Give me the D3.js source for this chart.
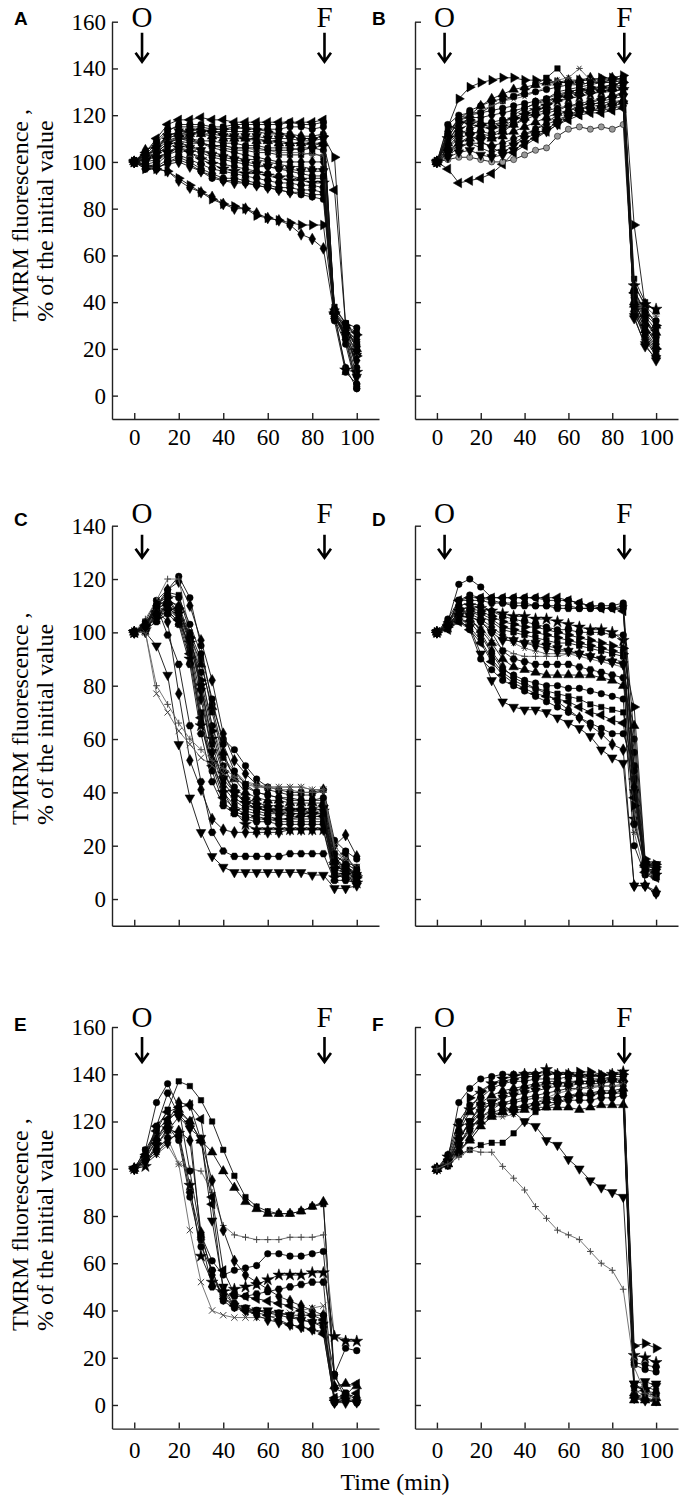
<!DOCTYPE html>
<html>
<head>
<meta charset="utf-8">
<script src="https://cdn.jsdelivr.net/npm/d3@7"></script>
<style>
body { margin: 0; background: #fff; }
svg text { font-family: "Liberation Serif", "Times New Roman", serif; fill: #000; }
</style>
</head>
<body>
<div id="chart"></div>
<script>
// sampling times (min)
var times = [0,5,10,15,20,25,30,35,40,45,50,55,60,65,70,75,80,85,90,95,100];
var xTicks = [0,20,40,60,80,100];
var yTicks160 = [0,20,40,60,80,100,120,140,160];
var yTicks140 = [0,20,40,60,80,100,120,140];

// panel A
var markersA = ["triLeft","circle","diamond","triangle","circle","square","diamond","triDown","circle","star",
  "circle","hexagon","diamond","circle","triRight","triLeft","triRight","diamond","asterisk","square",
  "circle","triDown","diamond","circle"];
var valuesA = [
  [100,104,110,116,118,118,119,118,118,117,117,117,117,117,117,117,117,118,35,30,27],
  [100,103,108,113,116,116,116,115,115,116,116,116,116,116,117,116,116,117,36,28,22],
  [100,105,107,111,113,114,114,113,113,113,113,113,112,112,112,111,111,112,34,25,5],
  [100,102,106,110,112,112,112,111,110,110,110,109,109,108,108,108,107,108,36,30,20],
  [100,104,104,108,110,110,109,109,108,108,107,107,106,106,106,105,106,105,33,22,3],
  [100,101,103,107,109,108,108,107,106,105,105,104,104,103,103,103,104,102,38,31,10],
  [100,103,105,109,111,110,108,106,105,104,103,102,101,100,100,100,100,100,34,24,4],
  [100,100,101,104,107,106,105,103,102,101,100,99,98,97,97,96,96,96,36,28,17],
  [100,98,99,103,105,104,102,100,99,98,97,96,95,94,94,93,93,93,33,26,12],
  [100,101,102,104,106,104,101,99,97,96,95,95,94,93,92,92,91,91,35,11,10],
  [100,99,98,101,103,101,99,97,96,95,94,93,92,91,91,90,90,89,34,12,3],
  [100,97,97,100,102,100,97,95,93,93,92,91,90,89,89,88,88,87,33,27,21],
  [100,98,98,99,100,98,96,94,92,91,91,90,89,88,87,87,86,86,35,29,23],
  [100,99,97,100,101,99,96,93,92,92,91,90,89,88,87,86,85,84,32,10,5],
  [100,102,104,108,111,112,113,114,114,115,114,114,113,112,111,110,110,111,102,30,26],
  [100,103,106,110,112,113,114,113,112,111,110,110,109,109,108,108,108,108,88,30,20],
  [100,97,97,96,93,90,87,84,82,81,80,77,76,75,74,73,73,73,35,25,17],
  [100,98,97,96,92,89,87,85,82,80,80,78,76,75,73,69,67,63,34,28,24],
  [100,102,105,109,110,109,108,107,107,106,106,105,105,104,104,104,103,103,37,27,18],
  [100,101,104,106,108,107,105,104,103,102,101,101,100,99,98,98,97,97,35,29,26],
  [100,104,109,114,115,115,115,114,114,114,115,114,114,114,115,115,114,115,37,31,29],
  [100,102,106,111,113,113,112,112,111,111,111,111,110,110,110,109,109,110,35,26,8],
  [100,101,104,108,110,109,108,107,107,106,106,106,105,105,105,106,106,107,36,24,15],
  [100,99,100,104,106,105,104,102,101,100,99,98,98,97,96,95,94,94,34,27,19]
];

// panel B
var markersB = ["triRight","triangle","square","asterisk","circle","diamond","triLeft","gcircle","triDown","star",
  "hexagon","square","triangle","circle","diamond","triRight","triDown","circle","triangle","square"];
var valuesB = [
  [100,115,127,132,134,135,136,136,135,135,135,134,134,135,135,136,136,137,73,38,30],
  [100,108,114,120,124,127,129,131,132,133,134,134,135,135,136,135,136,135,45,35,30],
  [100,110,118,120,121,124,126,128,130,133,136,140,134,133,134,135,135,136,50,40,36],
  [100,112,119,120,122,124,126,127,128,130,132,135,136,140,135,134,134,135,48,38,34],
  [100,116,120,121,121,122,123,124,125,126,127,129,130,131,131,132,133,134,42,32,25],
  [100,113,118,119,119,120,121,122,123,125,126,128,129,130,131,132,132,133,40,30,22],
  [100,97,91,92,93,95,99,104,107,110,113,116,118,120,121,121,122,123,44,34,28],
  [100,101,102,102,101,100,100,101,103,105,106,111,114,115,114,115,114,116,38,25,18],
  [100,104,108,111,109,106,104,107,110,112,114,117,120,122,124,126,127,128,33,22,15],
  [100,110,114,116,115,114,115,118,120,122,124,126,127,128,129,130,130,131,47,39,37],
  [100,106,110,112,113,112,114,116,118,120,121,122,124,125,126,127,128,129,36,24,17],
  [100,109,116,118,117,116,117,120,123,125,127,130,131,132,133,134,134,135,41,30,24],
  [100,105,108,110,111,110,111,113,115,117,119,121,122,123,124,124,125,126,39,28,21],
  [100,108,112,114,116,117,118,118,119,121,122,123,124,124,125,125,126,126,43,33,26],
  [100,103,106,108,108,107,108,110,112,114,116,118,120,121,122,122,123,124,35,26,19],
  [100,111,117,118,116,115,117,119,121,123,125,128,130,131,132,132,133,134,37,27,20],
  [100,102,104,105,103,102,103,105,108,111,113,116,119,121,122,123,124,125,34,21,16],
  [100,112,118,122,124,126,127,128,129,130,131,132,133,133,134,134,135,136,45,36,32],
  [100,106,112,113,112,111,113,116,119,121,124,127,129,130,131,131,132,132,40,31,27],
  [100,104,107,108,106,104,106,108,111,114,117,120,122,124,125,127,128,130,38,29,23]
];

// panel C
var markersC = ["circle","diamond","plus","square","triangle","circle","star","triRight","diamond","square",
  "circle","triLeft","hexagon","star","diamond","hexagon","triDown","cross","plus","triDown",
  "circle","square"];
var valuesC = [
  [100,104,112,116,121,113,95,73,60,56,50,45,42,41,40,40,40,41,22,18,15],
  [100,103,110,116,119,110,97,82,62,52,47,43,41,40,39,39,39,41,20,24,16],
  [100,105,112,120,120,100,85,65,53,48,44,42,42,42,42,42,41,41,18,15,12],
  [100,102,110,115,114,100,90,70,53,46,42,40,39,38,38,37,37,37,16,14,12],
  [100,103,108,112,110,99,88,72,55,45,40,38,37,37,36,36,36,36,15,12,10],
  [100,102,109,111,108,97,85,65,50,42,38,36,35,35,34,34,34,35,14,12,9],
  [100,101,107,110,107,96,80,60,47,40,36,34,33,33,33,33,32,33,13,10,8],
  [100,103,111,113,109,98,82,63,48,40,36,34,33,32,32,32,32,32,12,11,8],
  [100,102,106,109,105,95,75,55,42,37,34,33,32,32,31,31,31,31,11,10,7],
  [100,101,106,108,104,95,70,52,40,35,33,32,31,30,30,30,30,30,10,9,7],
  [100,103,109,113,107,93,66,48,36,33,31,30,30,29,29,29,29,29,9,8,6],
  [100,102,108,110,105,92,68,50,38,34,32,31,30,30,30,31,31,31,13,17,10],
  [100,101,104,107,103,88,62,44,35,32,30,29,29,28,28,28,28,28,12,12,8],
  [100,102,105,108,104,90,65,51,40,33,28,26,26,26,26,26,26,26,8,9,6],
  [100,103,108,104,77,52,41,30,26,25,25,25,25,25,26,26,26,26,10,8,7],
  [100,102,110,99,88,65,44,25,18,16,16,16,16,16,17,17,17,17,7,7,6],
  [100,100,95,84,58,38,25,16,12,10,10,10,10,10,10,10,9,9,4,4,5],
  [100,100,77,70,63,58,53,50,47,45,43,42,42,42,42,42,41,41,20,15,12],
  [100,100,80,73,66,60,56,52,49,46,44,43,42,41,41,40,40,40,18,14,10],
  [100,102,106,110,108,97,78,55,45,40,37,35,34,34,33,33,33,34,11,12,9],
  [100,103,110,114,113,103,92,75,58,48,43,40,39,38,37,37,37,38,17,13,11],
  [100,102,107,110,107,99,80,58,44,38,35,34,33,33,32,32,32,32,14,11,9]
];

// panel D
var markersD = ["circle","triLeft","hexagon","star","circle","triRight","square","asterisk","triDown","plus",
  "hexagon","triangle","circle","square","triLeft","diamond","circle","triDown","circle","triRight","diamond"];
var valuesD = [
  [100,104,118,120,117,113,113,113,113,113,112,112,112,111,110,110,110,111,60,12,10],
  [100,103,112,113,113,113,113,113,113,113,113,113,112,111,110,109,109,108,45,10,8],
  [100,103,112,112,112,111,111,110,110,110,110,109,109,109,109,109,109,110,40,14,12],
  [100,102,108,110,109,108,107,106,106,105,105,104,103,102,101,101,100,97,30,12,9],
  [100,104,110,111,110,108,106,105,104,103,102,101,101,100,100,100,99,99,55,10,9],
  [100,102,108,108,107,105,102,101,100,100,99,98,97,96,95,94,93,92,72,15,12],
  [100,103,107,108,106,104,101,100,99,98,97,96,96,95,94,93,92,91,50,11,10],
  [100,101,105,106,104,101,98,96,94,93,92,92,92,92,91,90,90,89,25,9,8],
  [100,103,106,106,104,100,97,97,96,96,95,94,93,92,91,90,89,88,40,12,13],
  [100,101,104,104,102,97,94,92,91,91,91,91,92,91,90,89,88,87,33,10,9],
  [100,102,106,106,104,100,93,90,89,88,88,88,88,87,86,85,84,83,28,13,11],
  [100,103,107,105,101,96,90,87,86,85,84,84,84,84,84,83,82,80,65,14,12],
  [100,102,105,104,99,92,86,84,82,81,80,80,79,79,78,77,76,75,20,9,8],
  [100,102,104,102,97,90,85,82,80,79,78,77,76,75,73,72,71,70,45,11,13],
  [100,101,104,101,96,89,84,81,79,77,76,75,74,72,70,69,67,66,38,12,10],
  [100,103,110,106,100,93,87,83,81,79,77,74,71,68,65,62,58,56,5,5,3],
  [100,102,105,101,90,86,82,80,78,76,74,72,70,68,66,64,62,62,50,5,2],
  [100,102,106,102,92,82,74,72,71,71,70,68,66,64,61,56,53,51,5,5,2],
  [100,105,112,114,113,112,111,111,111,110,110,110,110,109,109,109,109,109,48,11,9],
  [100,103,109,109,108,106,104,103,102,102,101,100,99,98,97,96,95,94,35,14,13],
  [100,102,107,107,105,102,99,97,96,95,94,93,93,92,91,90,89,88,42,13,11]
];

// panel E
var markersE = ["square","triangle","plus","diamond","circle","hexagon","star","cross","triDown","circle",
  "hexagon","triLeft","diamond","triLeft"];
var valuesE = [
  [100,108,116,125,137,135,129,120,108,97,88,84,82,81,81,82,84,85,12,5,2],
  [100,106,113,120,125,120,112,107,99,92,86,83,81,81,81,82,84,86,8,9,8],
  [100,102,106,110,102,100,99,90,76,72,71,70,70,70,71,71,71,72,29,28,27],
  [100,104,112,120,128,127,112,95,74,61,55,52,49,46,44,42,40,38,2,2,2],
  [100,108,128,136,126,99,72,61,55,57,58,59,64,64,63,63,64,65,13,2,1],
  [100,104,118,132,123,118,70,50,47,46,46,47,48,49,50,51,52,52,1,2,1],
  [100,101,110,117,115,93,63,52,48,49,50,51,53,55,55,55,56,56,29,27,27],
  [100,102,106,113,102,74,52,40,38,37,37,37,37,38,39,40,41,42,2,3,2],
  [100,103,110,116,122,117,113,78,50,42,41,40,40,39,38,36,35,34,1,2,1],
  [100,105,112,118,112,88,67,57,44,41,40,40,39,39,38,38,38,38,13,24,23],
  [100,104,108,113,114,90,71,57,45,43,41,40,39,38,37,36,35,33,7,5,3],
  [100,105,116,121,124,120,112,85,48,42,40,39,38,36,34,33,32,30,2,3,5],
  [100,103,107,111,116,112,73,55,45,42,40,38,36,35,34,33,32,31,1,1,2],
  [100,106,118,124,126,127,121,88,57,47,46,45,44,43,42,40,38,36,3,4,9]
];

// panel F
var markersF = ["circle","triRight","star","circle","triangle","square","triDown","diamond","asterisk","triangle",
  "square","circle","triangle","hexagon","triDown","plus"];
var valuesF = [
  [100,104,128,134,138,139,140,140,140,140,141,140,140,140,140,139,140,140,18,17,16],
  [100,103,115,130,133,136,137,138,139,139,140,140,140,141,141,140,140,140,25,26,24],
  [100,105,118,125,132,136,138,139,140,140,142,140,140,139,139,139,140,141,21,20,18],
  [100,106,120,127,130,134,136,137,137,138,138,138,139,139,138,138,139,139,17,15,14],
  [100,104,116,124,128,131,133,134,135,136,137,137,136,137,137,138,138,138,5,7,3],
  [100,102,112,120,124,128,131,133,134,135,136,136,137,137,137,137,138,137,4,3,2],
  [100,103,110,118,124,128,130,131,132,133,134,135,135,136,136,136,137,136,9,10,8],
  [100,102,110,116,122,125,128,129,130,131,132,133,134,134,135,135,135,135,3,2,2],
  [100,102,107,112,118,122,122,123,125,128,130,132,133,134,134,135,135,136,6,4,3],
  [100,102,108,112,118,122,124,126,127,128,129,130,131,132,132,133,133,134,2,3,1],
  [100,101,106,108,110,111,111,115,120,124,126,128,130,131,132,132,132,133,7,8,6],
  [100,103,113,120,126,127,127,128,129,130,130,130,131,131,131,132,132,132,3,5,4],
  [100,102,107,113,120,123,124,125,125,126,126,126,126,125,126,127,127,127,4,2,1],
  [100,102,110,117,122,124,125,126,126,127,128,128,129,129,129,130,130,131,8,6,5],
  [100,103,112,120,127,128,127,124,120,118,112,110,104,100,95,92,90,88,9,6,9],
  [100,102,105,108,107,107,101,96,91,84,79,74,72,70,65,60,57,49,16,5,3]
];

var svgWidth = 686;
var svgHeight = 1512;
var serif = "'Liberation Serif', 'Times New Roman', serif";

var svg = d3.select("#chart")
    .append("svg")
    .attr("width", svgWidth)
    .attr("height", svgHeight);

// column x ranges and row y ranges (pixels)
var cols = [[112, 379], [415, 678]];
var rows = [
    {top: 21.7, bottom: 419, max: 160, ticks: yTicks160, pad: 10},
    {top: 525.7, bottom: 925.7, max: 140, ticks: yTicks140, pad: 10},
    {top: 1027, bottom: 1428.6, max: 160, ticks: yTicks160, pad: 13}
];
// where the O / F labels and arrows sit, relative to the row top
var arrowPos = [
    {label: 5, y0: 11, y1: 40},
    {label: -3, y0: 9, y1: 32},
    {label: 0, y0: 10, y1: 35}
];

var panels = [
    {name: "A", values: valuesA, markers: markersA, col: 0, row: 0, xLabels: true},
    {name: "B", values: valuesB, markers: markersB, col: 1, row: 0, xLabels: true},
    {name: "C", values: valuesC, markers: markersC, col: 0, row: 1, xLabels: false},
    {name: "D", values: valuesD, markers: markersD, col: 1, row: 1, xLabels: false},
    {name: "E", values: valuesE, markers: markersE, col: 0, row: 2, xLabels: true},
    {name: "F", values: valuesF, markers: markersF, col: 1, row: 2, xLabels: true}
];

// extra marker shapes
var symHexagon = {
    draw: function(ctx, size) {
        var r = Math.sqrt(size / 2.598);
        for (var i = 0; i < 6; i++) {
            var a = Math.PI / 3 * i;
            if (i === 0) ctx.moveTo(r * Math.cos(a), r * Math.sin(a));
            else ctx.lineTo(r * Math.cos(a), r * Math.sin(a));
        }
        ctx.closePath();
    }
};
var symX = {
    draw: function(ctx, size) {
        var r = Math.sqrt(size) / 2;
        ctx.moveTo(-r, -r); ctx.lineTo(r, r);
        ctx.moveTo(r, -r); ctx.lineTo(-r, r);
    }
};
var symPlus = {
    draw: function(ctx, size) {
        var r = Math.sqrt(size) / 2;
        ctx.moveTo(-r, 0); ctx.lineTo(r, 0);
        ctx.moveTo(0, -r); ctx.lineTo(0, r);
    }
};
var symAst = {
    draw: function(ctx, size) {
        var r = Math.sqrt(size) / 2;
        ctx.moveTo(-r, 0); ctx.lineTo(r, 0);
        ctx.moveTo(-r * 0.6, -r * 0.8); ctx.lineTo(r * 0.6, r * 0.8);
        ctx.moveTo(r * 0.6, -r * 0.8); ctx.lineTo(-r * 0.6, r * 0.8);
    }
};

var markStyle = {
    circle:   {type: d3.symbolCircle, size: 34, rot: 0},
    gcircle:  {type: d3.symbolCircle, size: 30, rot: 0, fill: "#999"},
    diamond:  {type: d3.symbolDiamond, size: 40, rot: 0},
    square:   {type: d3.symbolSquare, size: 30, rot: 0},
    triangle: {type: d3.symbolTriangle, size: 40, rot: 0},
    triDown:  {type: d3.symbolTriangle, size: 40, rot: 180},
    triLeft:  {type: d3.symbolTriangle, size: 40, rot: -90},
    triRight: {type: d3.symbolTriangle, size: 40, rot: 90},
    star:     {type: d3.symbolStar, size: 44, rot: 0},
    hexagon:  {type: symHexagon, size: 38, rot: 0},
    cross:    {type: symX, size: 40, rot: 0, stroke: true},
    plus:     {type: symPlus, size: 44, rot: 0, stroke: true},
    asterisk: {type: symAst, size: 44, rot: 0, stroke: true}
};

panels.forEach(function(p) {
    var row = rows[p.row];
    var xScale = d3.scaleLinear().domain([-10, 110]).range(cols[p.col]);
    var yScale = d3.scaleLinear().domain([-10, row.max]).range([row.bottom, row.top]);
    var g = svg.append("g");

    // axes, ticks pointing inward
    var yAxis = d3.axisLeft(yScale).tickValues(row.ticks)
        .tickSizeInner(-6).tickSizeOuter(0).tickPadding(6);
    if (p.col === 1) yAxis.tickFormat("");
    var xAxis = d3.axisBottom(xScale).tickValues(xTicks)
        .tickSizeInner(-6).tickSizeOuter(0).tickPadding(row.pad);
    if (!p.xLabels) xAxis.tickFormat("");

    var ya = g.append("g")
        .attr("transform", "translate(" + xScale(-10) + ",0)")
        .call(yAxis);
    var xa = g.append("g")
        .attr("transform", "translate(0," + yScale(-10) + ")")
        .call(xAxis);
    [ya, xa].forEach(function(a) {
        a.attr("font-family", serif).attr("font-size", 23);
        a.selectAll("path, line").attr("stroke", "#222").attr("stroke-width", 1.4);
        a.selectAll("text")
            .style("font-family", serif)
            .style("font-size", "23px")
            .attr("fill", "#000");
    });

    // traces
    var line = d3.line().x(function(d, i) { return xScale(times[i]); })
        .y(function(d) { return yScale(d); });

    p.values.forEach(function(vals, k) {
        var ms = markStyle[p.markers[k]];
        var grey = ms.stroke;
        g.append("path")
            .datum(vals)
            .attr("d", line)
            .attr("fill", "none")
            .attr("stroke", grey ? "#666" : "#111")
            .attr("stroke-width", 0.9);
        var sym = d3.symbol().type(ms.type).size(ms.size);
        g.selectAll(null)
            .data(vals)
            .enter()
            .append("path")
            .attr("d", sym)
            .attr("transform", function(d, i) {
                return "translate(" + xScale(times[i]) + "," + yScale(d) + ") rotate(" + ms.rot + ")";
            })
            .attr("fill", ms.stroke ? "none" : (ms.fill || "#000"))
            .attr("stroke", ms.stroke ? "#444" : "#000")
            .attr("stroke-width", ms.stroke ? 1 : 0.5);
    });

    // O and F arrows
    var ap = arrowPos[p.row];
    [["O", 3.5], ["F", 85.5]].forEach(function(a) {
        var ax = xScale(a[1]);
        g.append("text")
            .attr("x", ax)
            .attr("y", row.top + ap.label)
            .attr("text-anchor", "middle")
            .style("font-family", serif)
            .style("font-size", "29px")
            .text(a[0]);
        var y1 = row.top + ap.y1;
        g.append("path")
            .attr("d", "M" + ax + "," + (row.top + ap.y0) + "V" + y1 +
                "M" + (ax - 6.5) + "," + (y1 - 9) + "L" + ax + "," + y1 + "L" + (ax + 6.5) + "," + (y1 - 9))
            .attr("fill", "none")
            .attr("stroke", "#000")
            .attr("stroke-width", 2.6);
    });

    // panel letter
    svg.append("text")
        .attr("x", p.col === 0 ? 14 : 372)
        .attr("y", row.top + (p.row === 1 ? 0 : 3.5))
        .attr("font-weight", "bold")
        .style("font-size", "19px")
        .style("font-family", "'Liberation Sans', Arial, sans-serif")
        .text(p.name);

    // y axis label on the left column
    if (p.col === 0) {
        var yStart = yScale(0) - 74;
        [["TMRM fluorescence ,", 28], ["% of the initial value", 53]].forEach(function(l) {
            svg.append("text")
                .attr("transform", "translate(" + l[1] + "," + yStart + ") rotate(-90)")
                .attr("text-anchor", "start")
                .style("font-family", serif)
                .style("font-size", "24px")
                .text(l[0]);
        });
    }
});

// shared x axis title
svg.append("text")
    .attr("x", 395)
    .attr("y", 1490)
    .attr("text-anchor", "middle")
    .style("font-family", serif)
    .style("font-size", "24px")
    .text("Time (min)");
</script>
</body>
</html>
